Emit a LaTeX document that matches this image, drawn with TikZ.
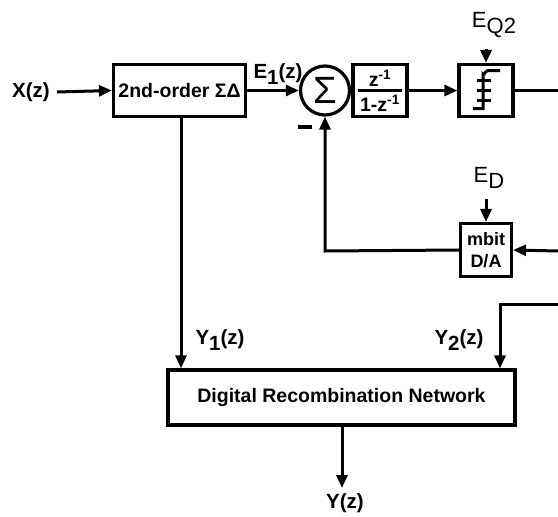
\documentclass[tikz,border=0pt]{standalone}
\usepackage{fontspec}
\setmainfont{Liberation Sans}
\usetikzlibrary{arrows.meta}
\newcommand{\lowsub}[1]{\raisebox{-0.3em}{#1}}
\begin{document}
\begin{tikzpicture}[x=1pt,y=-1pt,
  wire/.style={line width=3pt},
  arr/.style={wire,-{Triangle[length=13pt,width=11pt]}},
  blk/.style={draw,line width=3.2pt,inner sep=0pt,fill=white},
  lbl/.style={font=\fontsize{20.5}{22}\selectfont\bfseries,inner sep=0pt},
  thin/.style={font=\fontsize{22}{22}\selectfont,inner sep=0pt}]
\useasboundingbox (0,0) rectangle (558,517);

% labels drawn first
\node[lbl] (xin) at (31,92) {X(z)};
\node[lbl] (e1) at (278,74) {E\lowsub{1}(z)};

% blocks
\node[blk,minimum width=132pt,minimum height=52pt,font=\fontsize{19.5}{20}\selectfont\bfseries] (sdm) at (179.5,90.5) {2nd-order ΣΔ};
\node[blk,circle,minimum size=49pt,font=\fontsize{38}{38}\selectfont] (sum) at (325,90.5) {Σ};
\node[blk,minimum width=54pt,minimum height=52pt] (integ) at (380,90.5) {};
\node[blk,minimum width=54pt,minimum height=52pt] (quant) at (486,90.5) {};
\node[blk,minimum width=51pt,minimum height=53pt,font=\fontsize{18}{22}\selectfont\bfseries,align=center] (dac) at (486,250) {mbit\\D/A};
\node[blk,minimum width=347pt,minimum height=55pt,font=\fontsize{19.5}{20}\selectfont\bfseries] (drn) at (341.5,397.5) {Digital Recombination Network};

% transfer function
\node[font=\fontsize{19.5}{20}\selectfont\bfseries,inner sep=0pt] (num) at ([yshift=12pt]integ.center) {z\textsuperscript{-1}};
\node[font=\fontsize{19.5}{20}\selectfont\bfseries,inner sep=0pt] (den) at ([yshift=-13pt]integ.center) {1-z\textsuperscript{-1}};
\draw[line width=2.4pt] ([xshift=-22pt]integ.center) -- ([xshift=22pt]integ.center);

% quantizer staircase
\begin{scope}[shift={(quant.center)},line width=3pt]
  \draw (-13,18) -- (-3,18) -- (-3,-16) to[out=-90,in=180] (2,-20) -- (14,-20);
  \draw (-9,-10) -- (5,-10);
  \draw (-9,0) -- (5,0);
  \draw (-9,10) -- (5,10);
\end{scope}

% other labels
\node[thin] (eq2) at (494,25) {E\lowsub{Q2}};
\node[thin] (ed) at (489,178) {E\lowsub{D}};
\node[lbl] (y1) at (220,340) {Y\lowsub{1}(z)};
\node[lbl] (y2) at (459,340) {Y\lowsub{2}(z)};
\node[lbl] (yout) at (345,503) {Y(z)};
\node[inner sep=0pt] (minus) at (305,127) {};
\draw[line width=3.5pt] ([xshift=-7pt]minus.center) -- ([xshift=7pt]minus.center);

% coordinates on the right edge
\coordinate (qout) at (558,90.5);
\coordinate (dain) at (558,251);
\coordinate (y2in) at (558,304);
\coordinate (y2c) at (500,304);
\coordinate (fbc) at (325,251);
\coordinate (edtop) at (486,199);
\coordinate (eqtop) at (486,49);
\coordinate (youtend) at (342,488);

% connectors
\draw[arr] (xin.east) ++(7pt,0) -- (sdm.west);
\draw[arr] (sdm.east) -- (sum.west);
\draw[arr] (integ.east) -- (quant.west);
\draw[wire] (quant.east) -- (qout);
\draw[arr] (eqtop) -- (quant.north);
\draw[arr] (edtop) -- (dac.north);
\draw[arr] (dain) -- (dac.east);
\draw[arr] (dac.west) -- (fbc) -- (sum.south);
\draw[arr] (sdm.south -| 181,0) -- (drn.north -| 181,0);
\draw[arr] (y2in) -- (y2c) -- (drn.north -| y2c);
\draw[arr] (drn.south -| youtend) -- (youtend);
\end{tikzpicture}
\end{document}
